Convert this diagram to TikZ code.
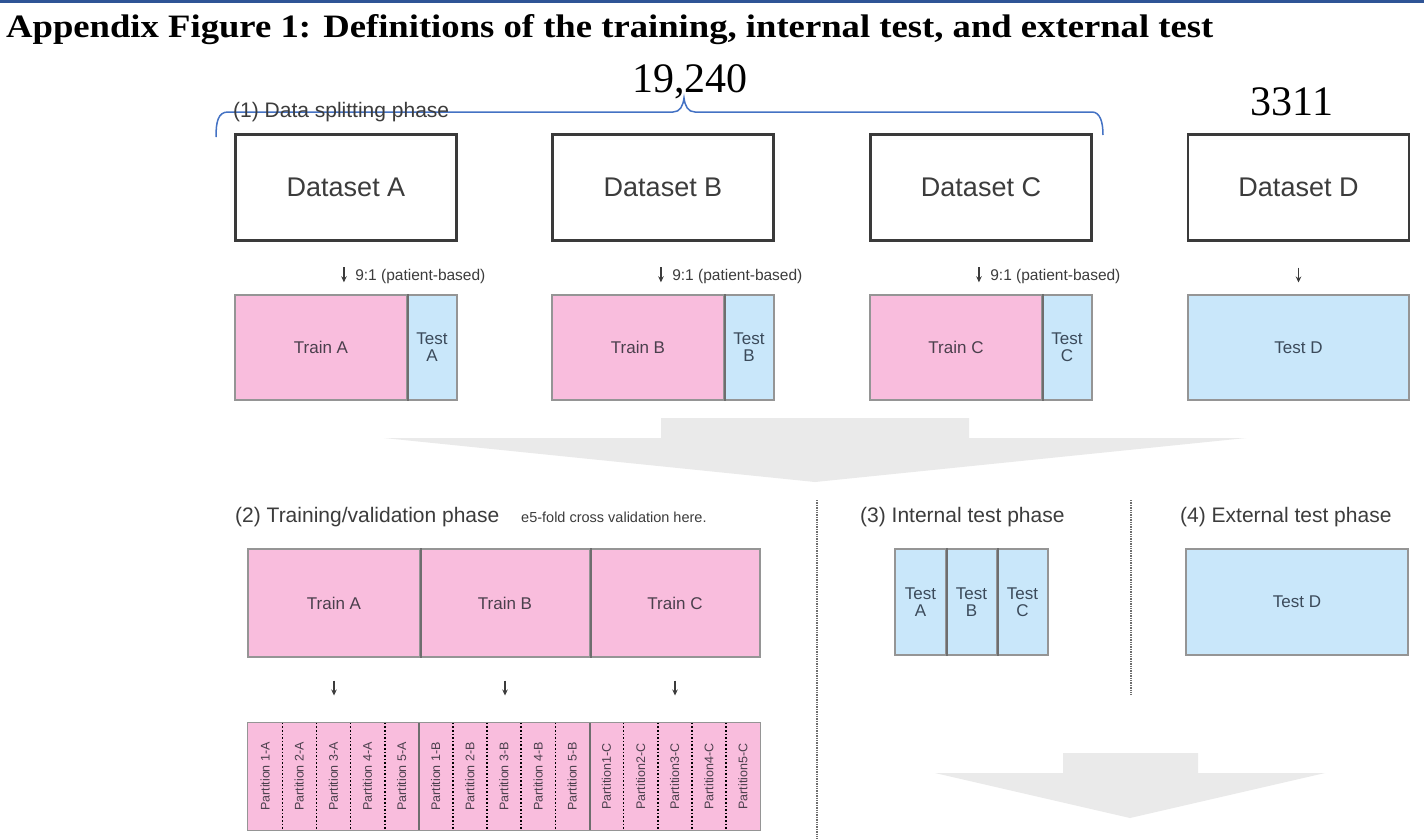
\documentclass[tikz,border=0pt]{standalone}
\usepackage{fontspec}
\setmainfont{Liberation Sans}
\newfontfamily\tms{Liberation Serif}
\usetikzlibrary{arrows.meta}
\definecolor{pinkf}{HTML}{F9BDDD}
\definecolor{bluef}{HTML}{C9E7FA}
\definecolor{boxgray}{HTML}{959595}
\definecolor{divgray}{HTML}{6E6E6E}
\definecolor{darkline}{HTML}{3A3A3A}
\definecolor{txtg}{HTML}{3C3C3C}
\definecolor{pinktxt}{HTML}{4A3F4C}
\definecolor{bluetxt}{HTML}{3B4A5A}
\definecolor{arrowg}{HTML}{EAEAEA}
\definecolor{topblue}{HTML}{2F5496}
\definecolor{bracebl}{HTML}{4472C4}
\newcommand\fsz[1]{\fontsize{#1}{#1}\selectfont}
\newcommand\dnarr{\tikz[baseline=-2pt]\draw[txtg, line width=1.6pt, -{Stealth[length=6pt,width=5.5pt]}] (0,11pt) -- (0,-4pt);}
\begin{document}
\begin{tikzpicture}[x=1pt,y=-1pt,
  dsbox/.style={draw=darkline, line width=2.5pt, minimum width=221pt, minimum height=106pt, inner sep=0pt, font=\fsz{27}, text=txtg},
  trbox/.style={fill=pinkf, draw=boxgray, line width=1.2pt, inner sep=0pt, font=\fsz{17}, text=pinktxt, align=center},
  tebox/.style={fill=bluef, draw=boxgray, line width=1.2pt, inner sep=0pt, font=\fsz{17}, text=bluetxt, align=center},
  splitlbl/.style={font=\fsz{15.5}, text=txtg, inner sep=0pt},
  phaselbl/.style={font=\fsz{21}, text=txtg, inner sep=0pt, anchor=base west},
  numlbl/.style={font=\tms\fsz{42}, text=black, inner sep=0pt, anchor=base},
  divline/.style={draw=divgray, line width=2pt},
  partbox/.style={fill=pinkf, draw=none, minimum width=34.13pt, minimum height=107pt, inner sep=0pt, font=\fsz{12.5}, text=pinktxt},
  partsep/.style={draw=black, line width=1.6pt, dotted},
  phasesep/.style={draw=divgray, line width=1.4pt, densely dotted},
  bigarrow/.style={fill=arrowg, draw=none}
]
\useasboundingbox (0,0) rectangle (1424,839);
\fill[white] (0,0) rectangle (1424,839);
% top rule
\draw[topblue, line width=3pt] (0,1.5) -- (1424,1.5);
% title
\node[anchor=base west, inner sep=0pt] (title) at (6,37)
  {\resizebox{1207pt}{23pt}{\tms\bfseries\fsz{30}Appendix Figure 1: Definitions of the training, internal test, and external test}};
% counts
\node[numlbl] (n1) at (690,92) {19,240};
\node[numlbl] (n2) at (1292,115) {3311};
% brace
\draw[bracebl, line width=1.5pt] (216,137) .. controls (216,122) and (218,112) .. (228,112) -- (673,112)
  .. controls (680,112) and (683,106) .. (684,98) .. controls (685,106) and (688,112) .. (695,112)
  -- (1092,112) .. controls (1100,112) and (1103,122) .. (1103,135);
% phase 1
\node[phaselbl] (p1) at (233,117) {(1) Data splitting phase};
\node[dsbox] (dA) at (346,187.5) {Dataset A};
\node[dsbox] (dB) at (663,187.5) {Dataset B};
\node[dsbox] (dC) at (981,187.5) {Dataset C};
\node[dsbox] (dD) at (1298.5,187.5) {Dataset D};
\node[splitlbl, anchor=west] (sA) at (341,275) {\dnarr\ \ 9:1 (patient-based)};
\node[splitlbl, anchor=west] (sB) at (658,275) {\dnarr\ \ 9:1 (patient-based)};
\node[splitlbl, anchor=west] (sC) at (976,275) {\dnarr\ \ 9:1 (patient-based)};
\node[splitlbl] (sD) at (1298.5,275) {\dnarr};
% split row
\node[trbox, minimum width=172pt, minimum height=105pt] (trA) at (321,347.5) {Train A};
\node[tebox, minimum width=50pt, minimum height=105pt] (teA) at (432,347.5) {Test\\A};
\node[trbox, minimum width=172pt, minimum height=105pt] (trB) at (638,347.5) {Train B};
\node[tebox, minimum width=50pt, minimum height=105pt] (teB) at (749,347.5) {Test\\B};
\node[trbox, minimum width=172pt, minimum height=105pt] (trC) at (956,347.5) {Train C};
\node[tebox, minimum width=50pt, minimum height=105pt] (teC) at (1067,347.5) {Test\\C};
\node[tebox, minimum width=221pt, minimum height=105pt] (teD) at (1298.5,347.5) {Test D};
\draw[divline] (trA.north east) -- (trA.south east);
\draw[divline] (trB.north east) -- (trB.south east);
\draw[divline] (trC.north east) -- (trC.south east);
% big arrow 1
\fill[bigarrow] (661,418) -- (969,418) -- (969,438) -- (1246,438) -- (815,482) -- (384,438) -- (661,438) -- cycle;
% phase separators
\coordinate (s1t) at (817,500);
\coordinate (s1b) at (817,839);
\coordinate (s2t) at (1131,500);
\coordinate (s2b) at (1131,695);
\draw[phasesep] (s1t) -- (s1b);
\draw[phasesep] (s2t) -- (s2b);
% phase labels
\node[phaselbl] (p2) at (235,522) {(2) Training/validation phase};
\node[font=\fsz{14.5}, text=txtg, inner sep=0pt, anchor=base west] (p2n) at (521,522) {e5-fold cross validation here.};
\node[phaselbl] (p3) at (860,522) {(3) Internal test phase};
\node[phaselbl] (p4) at (1180,522) {(4) External test phase};
% phase 2 training row
\node[trbox, minimum width=172pt, minimum height=108pt] (tA) at (334,603) {Train A};
\node[trbox, minimum width=170pt, minimum height=108pt] (tB) at (505,603) {Train B};
\node[trbox, minimum width=170pt, minimum height=108pt] (tC) at (675,603) {Train C};
\draw[divline] (tA.north east) -- (tA.south east);
\draw[divline] (tB.north east) -- (tB.south east);
\node[splitlbl] (aA) at (334,688) {\dnarr};
\node[splitlbl] (aB) at (505,688) {\dnarr};
\node[splitlbl] (aC) at (675,688) {\dnarr};
% partitions
\foreach \g/\gl/\sp [count=\gi from 0] in {A/A/{ },B/B/{ },C/C/{}} {
  \foreach \k in {1,...,5} {
    \pgfmathsetmacro\cx{248+34.133*(5*\gi+\k-1)+17.067}
    \node[partbox] (pt\g\k) at (\cx,776.5) {\rotatebox{90}{Partition\sp\k-\gl}};
  }
}
\draw[draw=boxgray, line width=1.2pt] (ptA1.north west) rectangle (ptC5.south east);
\foreach \g in {A,B,C} {
  \foreach \k in {1,...,4} {
    \draw[partsep] (pt\g\k.north east) -- (pt\g\k.south east);
  }
}
\draw[divline] (ptA5.north east) -- (ptA5.south east);
\draw[divline] (ptB5.north east) -- (ptB5.south east);
% internal test
\node[tebox, minimum width=51pt, minimum height=106pt] (iA) at (920.5,602) {Test\\A};
\node[tebox, minimum width=51pt, minimum height=106pt] (iB) at (971.5,602) {Test\\B};
\node[tebox, minimum width=51pt, minimum height=106pt] (iC) at (1022.5,602) {Test\\C};
\draw[divline] (iA.north east) -- (iA.south east);
\draw[divline] (iB.north east) -- (iB.south east);
% external test
\node[tebox, minimum width=222pt, minimum height=106pt] (eD) at (1297,602) {Test D};
% big arrow 2
\fill[bigarrow] (1063,753) -- (1198,753) -- (1198,773) -- (1325,773) -- (1130,818) -- (935,773) -- (1063,773) -- cycle;
\end{tikzpicture}
\end{document}
